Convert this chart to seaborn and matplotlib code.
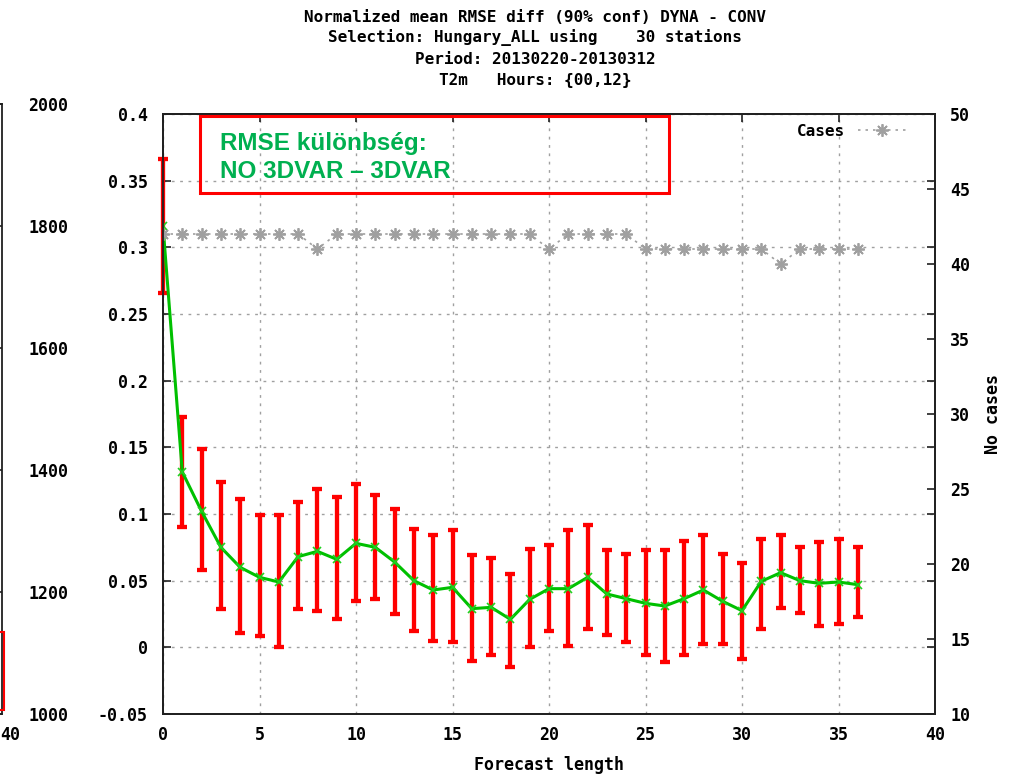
import numpy as np
import matplotlib
matplotlib.use("Agg")
import matplotlib.pyplot as plt
import seaborn as sns
from matplotlib.patches import Rectangle
from matplotlib.lines import Line2D

lead = list(range(37))
rmse_diff = [0.316, 0.1315, 0.102, 0.075, 0.060, 0.0525, 0.049, 0.068, 0.072, 0.066,
             0.078, 0.075, 0.064, 0.050, 0.043, 0.045, 0.029, 0.030, 0.021, 0.036,
             0.044, 0.044, 0.0525, 0.040, 0.0365, 0.033, 0.031, 0.0365, 0.043, 0.0345,
             0.0275, 0.0495, 0.056, 0.050, 0.048, 0.049, 0.047]
ci_high = [0.366, 0.173, 0.149, 0.124, 0.1115, 0.099, 0.099, 0.109, 0.119, 0.113,
           0.1225, 0.114, 0.104, 0.089, 0.084, 0.088, 0.0695, 0.067, 0.055, 0.074,
           0.0765, 0.088, 0.0915, 0.073, 0.070, 0.073, 0.073, 0.080, 0.084, 0.070,
           0.063, 0.0815, 0.084, 0.075, 0.079, 0.0815, 0.075]
ci_low = [0.266, 0.090, 0.058, 0.0285, 0.011, 0.0085, 0.0, 0.0285, 0.027, 0.021,
          0.035, 0.0365, 0.025, 0.0125, 0.005, 0.004, -0.010, -0.006, -0.015, 0.0,
          0.0125, 0.001, 0.014, 0.009, 0.004, -0.006, -0.011, -0.006, 0.0025, 0.0025,
          -0.009, 0.014, 0.0295, 0.026, 0.016, 0.0175, 0.0225]
cases = [42, 42, 42, 42, 42, 42, 42, 42, 41, 42, 42, 42, 42, 42, 42, 42, 42, 42, 42, 42,
         41, 42, 42, 42, 42, 41, 41, 41, 41, 41, 41, 41, 40, 41, 41, 41, 41]

title_lines = ["Normalized mean RMSE diff (90% conf) DYNA - CONV",
               "Selection: Hungary_ALL using    30 stations",
               "Period: 20130220-20130312",
               "T2m   Hours: {00,12}"]
note_lines = ["RMSE különbség:", "NO 3DVAR \u2013 3DVAR"]
left_ticks = [1000, 1200, 1400, 1600, 1800, 2000]

sns.set_style("white")
plt.rcParams['font.family'] = ['DejaVu Sans Mono']
plt.rcParams['font.weight'] = 'bold'
plt.rcParams['axes.unicode_minus'] = False
plt.rcParams['text.color'] = 'black'
plt.rcParams['axes.labelcolor'] = 'black'
plt.rcParams['xtick.color'] = 'black'
plt.rcParams['ytick.color'] = 'black'

W, H = 1012, 777
fig = plt.figure(figsize=(W / 100, H / 100), dpi=100)

def fx(px):
    return px / W

def fy(py):
    return 1 - py / H

tick_font = dict(family='DejaVu Sans Mono', weight='bold', size=12, color='black')
border = '#202020'

# main axes
ax = fig.add_axes([fx(163), fy(714), fx(935) - fx(163), fy(114) - fy(714)])
ax2 = ax.twinx()

ax.grid(True, color='#a0a0a0', linestyle=(0, (2, 4)), linewidth=1)
ax.set_axisbelow(True)

ax.errorbar(lead, rmse_diff,
            yerr=[np.array(rmse_diff) - np.array(ci_low), np.array(ci_high) - np.array(rmse_diff)],
            fmt='none', ecolor='#ff0000', elinewidth=3.1, capsize=3.8, capthick=3.1,
            clip_on=False, zorder=3)
sns.lineplot(x=lead, y=rmse_diff, ax=ax, color='#00c000', linewidth=2.2,
             marker='x', markersize=6, markeredgewidth=1.2, markeredgecolor='#20d020',
             zorder=4)

sns.lineplot(x=lead, y=cases, ax=ax2, color='#a0a0a0', linewidth=1.2,
             linestyle=(0, (1.5, 3)), marker=(8, 2, 0), markersize=9,
             markeredgewidth=1.3, markeredgecolor='#a0a0a0')

ax.set_xlim(0, 40)
ax.set_ylim(-0.05, 0.4)
ax2.set_ylim(10, 50)
ax.set_xticks(range(0, 41, 5))
yt = np.round(np.arange(-0.05, 0.401, 0.05), 2)
ax.set_yticks(yt)
ax.set_yticklabels([f"{v:g}" for v in yt], **tick_font)
ax.set_xticklabels([str(v) for v in range(0, 41, 5)], **tick_font)
ax2.set_yticks(range(10, 51, 5))
ax2.set_yticklabels([str(v) for v in range(10, 51, 5)], **tick_font)

ax.tick_params(axis='both', direction='in', length=6, width=1.2, color=border,
               top=True, right=True, labelright=False)
ax.tick_params(axis='x', pad=9)
ax.tick_params(axis='y', pad=11)
ax2.tick_params(axis='y', direction='in', length=6, width=1.2, color=border, pad=11)

for a in (ax, ax2):
    for s in a.spines.values():
        s.set_color(border)
        s.set_linewidth(1.3)

ax.set_xlabel("Forecast length", fontdict=tick_font, labelpad=8)
ax.set_ylabel("")
ax2.set_ylabel("No cases", fontdict=tick_font, labelpad=10)

legend_handle = Line2D([], [], color='#a0a0a0', linewidth=1.2, linestyle=(0, (1.5, 3)),
                       marker=(8, 2, 0), markersize=9, markeredgewidth=1.3)
ax2.legend([legend_handle], ["Cases"], loc='upper right', frameon=False,
           markerfirst=False, handlelength=3.0, borderaxespad=0.2,
           bbox_to_anchor=(0.975, 1.0),
           prop=dict(family='DejaVu Sans Mono', weight='bold', size=11.5))

# title lines
for i, line in enumerate(title_lines):
    fig.text(fx(535), fy(17 + 21 * i), line, ha='center', va='center',
             family='DejaVu Sans Mono', weight='bold', size=11.5, color='black')

# red annotation box
fig.patches.append(Rectangle((fx(200), fy(193)), fx(669) - fx(200), fy(116) - fy(193),
                             transform=fig.transFigure, fill=False,
                             edgecolor='#ff0000', linewidth=2.2))
for line, base in zip(note_lines, [150, 178.5]):
    fig.text(fx(220), fy(base), line, ha='left', va='baseline', color='#00b050',
             family='Liberation Sans', weight='bold', size=17.5)

# fragment of neighbouring panel on the left
axl = fig.add_axes([-0.3, fy(714), 0.3 + fx(2), fy(104) - fy(714)])
axl.set_ylim(1000, 2000)
axl.set_xlim(0, 40)
axl.yaxis.tick_right()
axl.set_yticks(left_ticks)
axl.set_yticklabels([str(v) for v in left_ticks], **tick_font)
axl.set_xticks([40])
axl.set_xticklabels([""])
axl.tick_params(axis='y', direction='in', length=6, width=1.2, color=border, pad=19)
axl.tick_params(axis='x', direction='in', length=6, width=1.2, color=border, pad=9)
for s in axl.spines.values():
    s.set_color(border)
    s.set_linewidth(1.3)
fig.text(fx(0.5), fy(735), "40", ha='left', va='center', **tick_font)
fig.patches.append(Rectangle((fx(-20), fy(710)), fx(24), fy(632) - fy(710),
                             transform=fig.transFigure, fill=False,
                             edgecolor='#ff0000', linewidth=1.5))

fig.savefig("out.png", dpi=100)
